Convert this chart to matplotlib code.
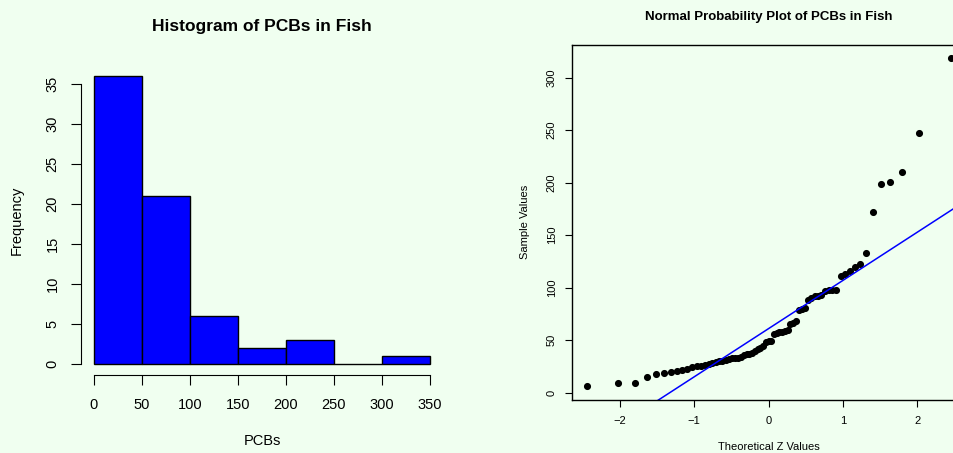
import numpy as np
import matplotlib
matplotlib.use("Agg")
from matplotlib import pyplot as plt
from statistics import NormalDist

plt.rcParams['font.family'] = ['Liberation Sans', 'DejaVu Sans']

# PCB concentrations in fish, sorted
pcbs = [6, 9, 9, 15, 18, 19, 20, 21, 22, 23,
        24, 25, 25.5, 26, 27, 28, 29, 30, 30.5, 31,
        32, 33, 33, 33, 34, 36, 37, 37, 38, 40,
        42, 43, 44, 48, 49, 49, 56, 57, 58, 58,
        59, 60, 65, 66, 68, 79, 80, 81, 88, 90,
        92, 92, 93, 97, 98, 98, 98, 111, 113, 116,
        120, 123, 133, 172, 199, 201, 210, 247, 319]
bin_edges = [0, 50, 100, 150, 200, 250, 300, 350]
hist_yticks = [0, 5, 10, 15, 20, 25, 30, 35]
qq_xticks = [-2, -1, 0, 1, 2]
qq_yticks = [0, 50, 100, 150, 200, 250, 300]

bg = '#F0FFF0'
fig = plt.figure(figsize=(9.54, 4.53), dpi=100, facecolor=bg)

# ---- histogram ----
ax1 = fig.add_axes([0.0844, 0.1711, 0.3804, 0.6872])
ax1.set_facecolor(bg)
ax1.hist(pcbs, bins=bin_edges, color='blue', edgecolor='black', linewidth=1)
ax1.set_xlim(-14, 364)
ax1.set_ylim(-1.44, 37.44)
for s in ['top', 'right']:
    ax1.spines[s].set_visible(False)
ax1.spines['left'].set_bounds(0, 35)
ax1.spines['bottom'].set_bounds(0, 350)
ax1.set_xticks(bin_edges)
ax1.set_yticks(hist_yticks)
ax1.tick_params(axis='x', length=7, pad=9, labelsize=10.5)
ax1.tick_params(axis='y', length=7, pad=8, labelsize=10.5, labelrotation=90)
for lab in ax1.get_yticklabels():
    lab.set_va('center')
ax1.set_title('Histogram of PCBs in Fish', fontsize=12.5, fontweight='bold',
              y=1.1205, va='center', pad=0)
ax1.set_xlabel('PCBs', fontsize=10.5)
ax1.xaxis.set_label_coords(0.5, -0.2104)
ax1.xaxis.label.set_va('center')
ax1.set_ylabel('Frequency', fontsize=10.5)
ax1.yaxis.set_label_coords(-0.175, 0.5)
ax1.yaxis.label.set_va('center')

# ---- normal probability plot ----
n = len(pcbs)
z = [NormalDist().inv_cdf((i + 0.5) / n) for i in range(n)]
q1, q3 = np.percentile(pcbs, [25, 75])
slope = (q3 - q1) / (NormalDist().inv_cdf(0.75) - NormalDist().inv_cdf(0.25))
intercept = q1 - slope * NormalDist().inv_cdf(0.25)

ax2 = fig.add_axes([0.5996, 0.1181, 0.4120, 0.7834])
ax2.set_facecolor(bg)
ax2.plot(z, pcbs, 'o', color='black', markersize=4.1)
zz = np.array([-4, 4])
ax2.plot(zz, intercept + slope * zz, color='blue', linewidth=1.1)
ax2.set_xlim(-2.64, 2.64)
ax2.set_ylim(-6.5, 331.5)
ax2.set_xticks(qq_xticks)
ax2.set_yticks(qq_yticks)
ax2.tick_params(axis='x', length=5, pad=7, labelsize=8)
ax2.tick_params(axis='y', length=5, pad=6, labelsize=8, labelrotation=90)
for lab in ax2.get_yticklabels():
    lab.set_va('center')
for s in ax2.spines.values():
    s.set_linewidth(1)
ax2.set_title('Normal Probability Plot of PCBs in Fish', fontsize=9.5,
              fontweight='bold', y=1.0778, va='center', pad=0)
ax2.set_xlabel('Theoretical Z Values', fontsize=8)
ax2.xaxis.set_label_coords(0.5, -0.1338)
ax2.xaxis.label.set_va('center')
ax2.set_ylabel('Sample Values', fontsize=8)
ax2.yaxis.set_label_coords(-0.1196, 0.5)
ax2.yaxis.label.set_va('center')

fig.savefig('out.png', dpi=100, facecolor=bg)
